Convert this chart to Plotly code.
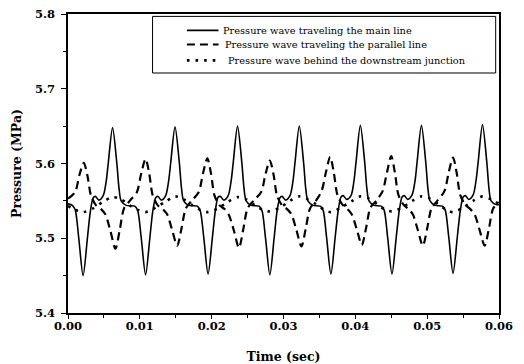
import plotly.graph_objects as go

# Pressure histories (time in s, pressure in MPa)
time_main = [
    0.0000, 0.0006, 0.0010, 0.0015, 0.0021, 0.0027, 0.0031, 0.0035, 0.0038, 0.0043, 0.0049, 0.0053, 0.0056, 0.0062, 0.0068, 0.0071, 0.0074, 0.0081,
    0.0093, 0.0097, 0.0102, 0.0108, 0.0114, 0.0118, 0.0122, 0.0125, 0.0130, 0.0136, 0.0140, 0.0143, 0.0149, 0.0155, 0.0158, 0.0161, 0.0168,
    0.0180, 0.0184, 0.0189, 0.0195, 0.0201, 0.0205, 0.0209, 0.0212, 0.0217, 0.0223, 0.0227, 0.0230, 0.0236, 0.0242, 0.0245, 0.0248, 0.0255,
    0.0266, 0.0270, 0.0275, 0.0281, 0.0287, 0.0291, 0.0295, 0.0298, 0.0303, 0.0309, 0.0313, 0.0316, 0.0322, 0.0328, 0.0331, 0.0334, 0.0341,
    0.0351, 0.0355, 0.0360, 0.0366, 0.0372, 0.0376, 0.0380, 0.0383, 0.0388, 0.0394, 0.0398, 0.0401, 0.0407, 0.0413, 0.0416, 0.0419, 0.0426,
    0.0436, 0.0440, 0.0445, 0.0451, 0.0457, 0.0461, 0.0465, 0.0468, 0.0473, 0.0479, 0.0483, 0.0486, 0.0492, 0.0498, 0.0501, 0.0504, 0.0511,
    0.0521, 0.0525, 0.0530, 0.0536, 0.0542, 0.0546, 0.0550, 0.0553, 0.0558, 0.0564, 0.0568, 0.0571, 0.0577, 0.0583, 0.0586, 0.0589, 0.0596,
    0.0600,
]
pressure_main = [
    5.546, 5.544, 5.538, 5.500, 5.450, 5.500, 5.535, 5.554, 5.556, 5.551, 5.557, 5.575, 5.600, 5.648, 5.600, 5.567, 5.550, 5.544,
    5.543, 5.537, 5.500, 5.451, 5.501, 5.536, 5.554, 5.556, 5.551, 5.557, 5.576, 5.601, 5.649, 5.601, 5.567, 5.550, 5.544,
    5.543, 5.537, 5.501, 5.452, 5.501, 5.536, 5.555, 5.556, 5.551, 5.557, 5.576, 5.601, 5.650, 5.601, 5.567, 5.550, 5.544,
    5.543, 5.537, 5.500, 5.451, 5.501, 5.536, 5.554, 5.556, 5.551, 5.557, 5.575, 5.601, 5.650, 5.601, 5.566, 5.550, 5.544,
    5.543, 5.538, 5.501, 5.452, 5.502, 5.536, 5.555, 5.557, 5.552, 5.557, 5.576, 5.602, 5.651, 5.602, 5.567, 5.550, 5.544,
    5.543, 5.538, 5.501, 5.452, 5.502, 5.536, 5.555, 5.557, 5.552, 5.558, 5.576, 5.602, 5.651, 5.602, 5.567, 5.550, 5.544,
    5.543, 5.538, 5.502, 5.453, 5.502, 5.536, 5.555, 5.557, 5.552, 5.558, 5.577, 5.602, 5.652, 5.602, 5.567, 5.550, 5.545,
    5.545,
]

time_parallel = [
    0.0000, 0.0010, 0.0016, 0.0022, 0.0027, 0.0032, 0.0039, 0.0046, 0.0052, 0.0059, 0.0066, 0.0072, 0.0078, 0.0086,
    0.0096, 0.0102, 0.0108, 0.0113, 0.0118, 0.0125, 0.0132, 0.0138, 0.0145, 0.0152, 0.0158, 0.0164, 0.0172,
    0.0182, 0.0188, 0.0194, 0.0199, 0.0204, 0.0211, 0.0218, 0.0224, 0.0231, 0.0238, 0.0244, 0.0250, 0.0258,
    0.0269, 0.0275, 0.0281, 0.0286, 0.0291, 0.0298, 0.0305, 0.0311, 0.0318, 0.0325, 0.0331, 0.0337, 0.0345,
    0.0353, 0.0359, 0.0365, 0.0370, 0.0375, 0.0382, 0.0389, 0.0395, 0.0402, 0.0409, 0.0415, 0.0421, 0.0429,
    0.0438, 0.0444, 0.0450, 0.0455, 0.0460, 0.0467, 0.0474, 0.0480, 0.0487, 0.0494, 0.0500, 0.0506, 0.0514,
    0.0524, 0.0530, 0.0536, 0.0541, 0.0546, 0.0553, 0.0560, 0.0566, 0.0573, 0.0580, 0.0586, 0.0592, 0.0600,
]
pressure_parallel = [
    5.553, 5.562, 5.585, 5.601, 5.584, 5.557, 5.544, 5.539, 5.532, 5.510, 5.486, 5.511, 5.540, 5.550,
    5.562, 5.587, 5.606, 5.587, 5.557, 5.544, 5.539, 5.532, 5.511, 5.490, 5.513, 5.540, 5.550,
    5.562, 5.587, 5.607, 5.587, 5.557, 5.544, 5.539, 5.531, 5.510, 5.487, 5.512, 5.540, 5.550,
    5.562, 5.586, 5.604, 5.586, 5.557, 5.544, 5.539, 5.532, 5.511, 5.489, 5.513, 5.540, 5.550,
    5.563, 5.588, 5.609, 5.588, 5.558, 5.545, 5.539, 5.532, 5.512, 5.491, 5.514, 5.541, 5.550,
    5.563, 5.588, 5.610, 5.588, 5.558, 5.545, 5.539, 5.532, 5.511, 5.490, 5.513, 5.540, 5.550,
    5.563, 5.588, 5.608, 5.588, 5.558, 5.545, 5.539, 5.532, 5.511, 5.490, 5.513, 5.540, 5.548,
]

time_junction = [
    0.0000, 0.0010,
    0.0021, 0.0035, 0.0049, 0.0062, 0.0074, 0.0086, 0.0097,
    0.0108, 0.0122, 0.0136, 0.0149, 0.0161, 0.0173, 0.0184,
    0.0195, 0.0209, 0.0223, 0.0236, 0.0248, 0.0260, 0.0271,
    0.0281, 0.0295, 0.0309, 0.0322, 0.0334, 0.0346, 0.0357,
    0.0366, 0.0380, 0.0394, 0.0407, 0.0419, 0.0431, 0.0442,
    0.0451, 0.0465, 0.0479, 0.0492, 0.0504, 0.0516, 0.0527,
    0.0536, 0.0550, 0.0564, 0.0577, 0.0589, 0.0600,
]
pressure_junction = [
    5.543, 5.538,
    5.535, 5.540, 5.549, 5.555, 5.552, 5.544, 5.538,
    5.535, 5.541, 5.549, 5.556, 5.552, 5.544, 5.538,
    5.535, 5.540, 5.549, 5.555, 5.552, 5.544, 5.538,
    5.536, 5.541, 5.550, 5.556, 5.552, 5.545, 5.538,
    5.535, 5.541, 5.549, 5.556, 5.553, 5.545, 5.538,
    5.536, 5.541, 5.550, 5.556, 5.553, 5.545, 5.538,
    5.535, 5.541, 5.550, 5.556, 5.552, 5.546,
]

series_names = [
    "Pressure wave traveling the main line",
    "Pressure wave traveling the parallel line",
    "Pressure wave behind the downstream junction",
]
x_ticks = [0.00, 0.01, 0.02, 0.03, 0.04, 0.05, 0.06]
y_ticks = [5.4, 5.5, 5.6, 5.7, 5.8]

SERIF = "DejaVu Serif"
line_styles = [
    dict(color="black", width=1.6, dash="solid"),
    dict(color="black", width=2.2, dash="8px,5px"),
    dict(color="black", width=2.6, dash="2.6px,6px"),
]

fig = go.Figure()
for t, p, name, style in zip(
    [time_main, time_parallel, time_junction],
    [pressure_main, pressure_parallel, pressure_junction],
    series_names,
    line_styles,
):
    fig.add_trace(go.Scatter(
        x=t, y=p, name=name, mode="lines",
        line=dict(shape="spline", smoothing=0.8, **style),
        showlegend=False,
    ))

# Framed legend drawn in paper coordinates
legend_box = dict(x0=0.1962, x1=0.9923, y0=0.8027, y1=0.992)
sample_x = (0.2759, 0.3493)
row_y = [0.9452, 0.8980, 0.8448]
text_x = [0.3554, 0.3593, 0.3670]

shapes = [dict(type="rect", xref="paper", yref="paper", line=dict(color="black", width=1),
               fillcolor="white", layer="above", **legend_box)]
annotations = []
for name, style, y, tx in zip(series_names, line_styles, row_y, text_x):
    shapes.append(dict(type="line", xref="paper", yref="paper",
                       x0=sample_x[0], x1=sample_x[1], y0=y, y1=y,
                       line=style, layer="above"))
    annotations.append(dict(xref="paper", yref="paper", x=tx, y=y,
                            xanchor="left", yanchor="middle", text=name,
                            showarrow=False,
                            font=dict(family=SERIF, size=9.8, color="black")))

axis_common = dict(
    showline=True, linecolor="black", linewidth=1.5, mirror=True,
    ticks="outside", tickcolor="black", tickwidth=1.3,
    showgrid=False, zeroline=False, automargin=False,
    tickfont=dict(family=SERIF, size=11.5, color="black", weight="bold"),
)

fig.update_layout(
    width=524, height=364,
    margin=dict(l=68, r=25, t=14, b=51),
    paper_bgcolor="white", plot_bgcolor="white",
    shapes=shapes, annotations=annotations,
    xaxis=dict(
        range=[0, 0.06], tickvals=x_ticks,
        ticktext=[f"{v:.2f}" for v in x_ticks], ticklen=4,
        ticklabelstandoff=-3,
        minor=dict(dtick=0.005, ticks="outside", ticklen=3, tickcolor="black", tickwidth=1.2),
        title=dict(text="Time (sec)", standoff=26,
                   font=dict(family=SERIF, size=12.5, color="black", weight="bold")),
        **axis_common,
    ),
    yaxis=dict(
        range=[5.4, 5.8], tickvals=y_ticks,
        ticktext=[f"{v:.1f}" for v in y_ticks], ticklen=5,
        ticklabelstandoff=4,
        minor=dict(dtick=0.05, ticks="outside", ticklen=3, tickcolor="black", tickwidth=1.2),
        title=dict(text="Pressure (MPa)", standoff=11,
                   font=dict(family=SERIF, size=12.5, color="black", weight="bold")),
        **axis_common,
    ),
)

fig.write_html("out.html")
